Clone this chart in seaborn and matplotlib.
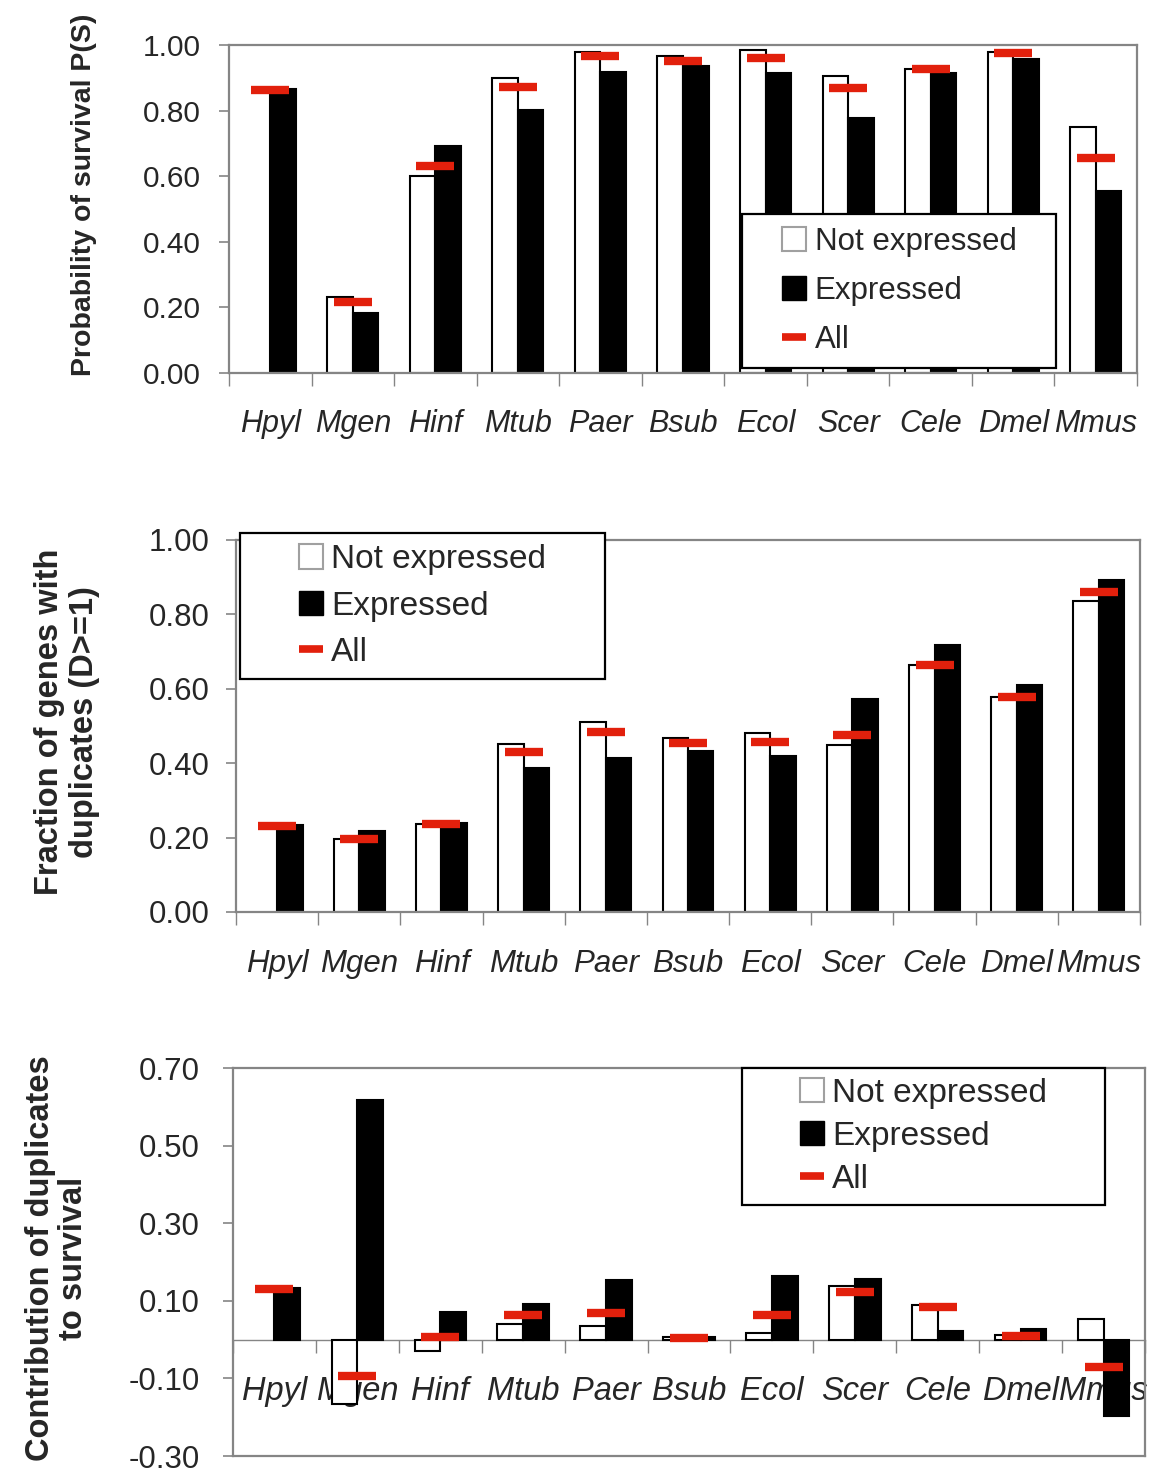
import numpy as np
import pandas as pd
import matplotlib
matplotlib.use("Agg")
import matplotlib.pyplot as plt
import matplotlib.transforms as mtransforms
from matplotlib.patches import Patch, Rectangle
from matplotlib.lines import Line2D
import seaborn as sns

# ---------------- data ----------------
species = ["Hpyl", "Mgen", "Hinf", "Mtub", "Paer", "Bsub", "Ecol", "Scer", "Cele", "Dmel", "Mmus"]
groups = ["Not expressed", "Expressed"]
all_label = "All"

surv_not = [np.nan, 0.232, 0.602, 0.900, 0.980, 0.966, 0.984, 0.904, 0.927, 0.980, 0.751]
surv_expr = [0.866, 0.182, 0.692, 0.801, 0.919, 0.937, 0.914, 0.778, 0.914, 0.956, 0.555]
surv_all = [0.864, 0.217, 0.630, 0.871, 0.966, 0.952, 0.960, 0.869, 0.926, 0.977, 0.655]

dup_not = [np.nan, 0.196, 0.236, 0.451, 0.510, 0.467, 0.481, 0.450, 0.663, 0.578, 0.835]
dup_expr = [0.233, 0.218, 0.239, 0.387, 0.415, 0.432, 0.420, 0.572, 0.718, 0.611, 0.892]
dup_all = [0.231, 0.197, 0.236, 0.430, 0.484, 0.453, 0.458, 0.477, 0.663, 0.578, 0.860]

contrib_not = [np.nan, -0.167, -0.030, 0.040, 0.034, 0.006, 0.017, 0.137, 0.089, 0.012, 0.052]
contrib_expr = [0.134, 0.618, 0.070, 0.093, 0.153, 0.006, 0.165, 0.156, 0.022, 0.027, -0.196]
contrib_all = [0.131, -0.094, 0.007, 0.063, 0.069, 0.004, 0.064, 0.122, 0.085, 0.010, -0.070]

ylabels = ["Probability of survival P(S)",
           "Fraction of genes with\nduplicates (D>=1)",
           "Contribution of duplicates\nto survival"]
yticks1 = [0.0, 0.2, 0.4, 0.6, 0.8, 1.0]
yticks2 = [0.0, 0.2, 0.4, 0.6, 0.8, 1.0]
yticks3 = [-0.3, -0.1, 0.1, 0.3, 0.5, 0.7]

# ---------------- style ----------------
sns.set_style("white")
plt.rcParams["font.family"] = ["Liberation Sans", "DejaVu Sans"]
plt.rcParams["axes.unicode_minus"] = False

RED = "#E2200C"
GRAY = "#858585"
W, H = 1154, 1474
fig = plt.figure(figsize=(W / 100, H / 100), dpi=100)

def px_axes(left, top, right, bottom):
    return fig.add_axes([left / W, 1 - bottom / H, (right - left) / W, (bottom - top) / H])

ax1 = px_axes(229, 45, 1137, 373)
ax2 = px_axes(236, 540, 1140, 912)
ax3 = px_axes(233, 1068, 1145, 1456)

boundaries = np.arange(-0.5, len(species), 1.0)

def draw_panel(ax, nvals, evals, avals, yticks, ylim, tick_fs, lab_fs, lab_y, lab_in_data, tickpad):
    df = pd.DataFrame({
        "species": species * 2,
        "group": [groups[0]] * len(species) + [groups[1]] * len(species),
        "value": list(nvals) + list(evals),
    }).dropna()
    sns.barplot(data=df, x="species", y="value", hue="group", order=species,
                hue_order=groups, palette={groups[0]: "white", groups[1]: "black"},
                edgecolor="black", linewidth=1.5, width=0.62, errorbar=None,
                saturation=1, legend=False, ax=ax)
    ax.plot(np.arange(len(species)), avals, linestyle="none", marker="_",
            markersize=27, markeredgewidth=6, color=RED, zorder=5)
    ax.set_xlim(-0.5, len(species) - 0.5)
    ax.set_ylim(*ylim)
    ax.set_yticks(yticks)
    ax.set_yticklabels([f"{v:.2f}" for v in yticks])
    ax.set_xticks(boundaries)
    ax.set_xticklabels([""] * len(boundaries))
    ax.set_xlabel("")
    ax.set_ylabel("")
    for sp in ax.spines.values():
        sp.set_color(GRAY)
        sp.set_linewidth(1.6)
        sp.set_visible(True)
    ax.tick_params(axis="y", direction="out", length=7, width=1.2, color=GRAY,
                   labelsize=tick_fs, pad=tickpad, left=True)
    ax.tick_params(axis="x", direction="out", length=9, width=1.0, color=GRAY, bottom=True)
    if lab_in_data:
        tr = ax.transData
    else:
        tr = mtransforms.blended_transform_factory(ax.transData, ax.transAxes)
    for i, s in enumerate(species):
        ax.text(i, lab_y, s, transform=tr, ha="center", va="baseline",
                style="italic", fontsize=lab_fs, zorder=0.5, clip_on=False)

draw_panel(ax1, surv_not, surv_expr, surv_all, yticks1, (0, 1.0), 21.5, 22, -0.18, False, 13)
draw_panel(ax2, dup_not, dup_expr, dup_all, yticks2, (0, 1.0), 22.5, 22.5, -0.161, False, 12)
draw_panel(ax3, contrib_not, contrib_expr, contrib_all, yticks3, (-0.3, 0.7), 22.5, 23.5, -0.156, True, 17)

# zero axis line with ticks for panel 3
ax3.tick_params(axis="x", bottom=False)
sec = ax3.secondary_xaxis(0.3)
sec.set_xticks(boundaries)
sec.set_xticklabels([""] * len(boundaries))
sec.tick_params(direction="out", length=9, width=1.0, color=GRAY)
sec.spines["bottom"].set_color(GRAY)
sec.spines["bottom"].set_linewidth(1.0)

# y labels
fig.text(84 / W, 1 - 195 / H, ylabels[0], rotation=90, ha="center", va="center",
         fontsize=20.5, fontweight="bold")
fig.text(67 / W, 1 - 722 / H, ylabels[1], rotation=90, ha="center", va="center",
         fontsize=23.5, fontweight="bold", multialignment="center", linespacing=1.15)
fig.text(57 / W, 1 - 1258 / H, ylabels[2], rotation=90, ha="center", va="center",
         fontsize=23.5, fontweight="bold", multialignment="center", linespacing=1.05)

# legends with boxes
def legend_box(x0, y0, x1, y1, fs, hl, htp, ls):
    fig.add_artist(Rectangle((x0 / W, 1 - y1 / H), (x1 - x0) / W, (y1 - y0) / H,
                             transform=fig.transFigure, facecolor="white",
                             edgecolor="black", linewidth=1.6, zorder=4))
    handles = [Patch(facecolor="white", edgecolor="#a0a0a0", linewidth=1.5),
               Patch(facecolor="black", edgecolor="black", linewidth=1.0),
               Line2D([0], [0], color=RED, linewidth=5.5, solid_capstyle="butt")]
    leg = fig.legend(handles=handles, labels=groups + [all_label], loc="center",
                     bbox_to_anchor=((x0 + x1) / 2 / W, 1 - (y0 + y1) / 2 / H),
                     frameon=False, fontsize=fs, handlelength=hl, handleheight=hl,
                     handletextpad=htp, labelspacing=ls, borderpad=0, borderaxespad=0)
    leg.set_zorder(6)

legend_box(742, 214, 1056, 368, 22.5, 0.77, 0.29, 0.61)
legend_box(240, 533, 605, 679, 24, 0.74, 0.24, 0.46)
legend_box(742, 1068, 1105, 1205, 24, 0.74, 0.24, 0.37)

fig.savefig("out.png", dpi=100, facecolor="white")
